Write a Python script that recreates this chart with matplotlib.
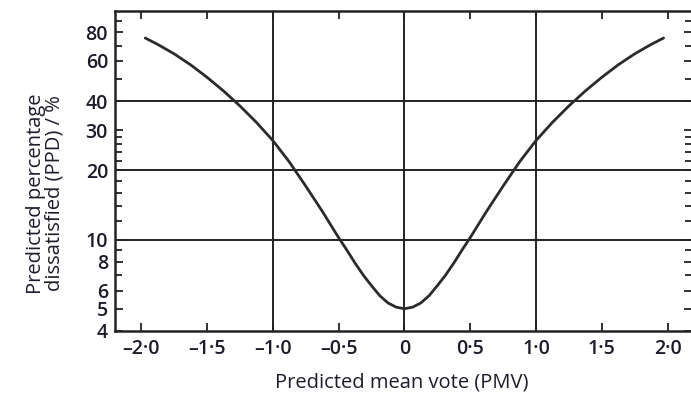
import matplotlib
matplotlib.use("Agg")
import matplotlib.pyplot as plt
from matplotlib.ticker import FixedLocator, NullFormatter

plt.rcParams['font.family'] = ['Open Sans', 'DejaVu Sans']

pmv = [-1.97, -1.875, -1.75, -1.625, -1.5, -1.375, -1.25, -1.125, -1.0, -0.875, -0.75,
       -0.625, -0.5, -0.4375, -0.375, -0.3125, -0.25, -0.1875, -0.125, -0.0625, 0.0,
       0.0625, 0.125, 0.1875, 0.25, 0.3125, 0.375, 0.4375, 0.5, 0.625, 0.75,
       0.875, 1.0, 1.125, 1.25, 1.375, 1.5, 1.625, 1.75, 1.875, 1.97]
ppd = [75.5, 70.8, 64.4, 57.7, 50.9, 44.4, 38.2, 32.4, 27.0, 21.8, 17.1,
       13.3, 10.2, 9.0, 7.9, 7.0, 6.3, 5.7, 5.3, 5.08, 5.0,
       5.08, 5.3, 5.7, 6.3, 7.0, 7.9, 9.0, 10.2, 13.3, 17.1,
       21.8, 27.0, 32.4, 38.2, 44.4, 50.9, 57.7, 64.4, 70.8, 75.5]

x_ticks = [-2.0, -1.5, -1.0, -0.5, 0.0, 0.5, 1.0, 1.5, 2.0]
x_labels = ['–2·0', '–1·5', '–1·0', '–0·5', '0', '0·5', '1·0', '1·5', '2·0']
y_ticks = [4, 5, 6, 8, 10, 20, 30, 40, 60, 80]
y_labels = ['4', '5', '6', '8', '10', '20', '30', '40', '60', '80']
y_minor = [7, 9, 12, 14, 16, 18, 22, 24, 26, 28, 50, 70, 90]
x_grid = [-1.0, 0.0, 1.0]
y_grid = [10, 20, 40]

fig = plt.figure(figsize=(6.91, 3.95), dpi=100)
ax = fig.add_axes([115 / 691, 64 / 395, 577 / 691, 320 / 395])

ink = '#222222'
txt = '#1c1c2a'
ax.plot(pmv, ppd, color='#2b2b2b', lw=2.0, solid_capstyle='round',
        solid_joinstyle='round', zorder=3)

ax.set_yscale('log')
ax.set_xlim(-2.2, 2.186)
ax.set_ylim(4, 99)

for g in x_grid:
    ax.axvline(g, color=ink, lw=1.4, zorder=2)
for g in y_grid:
    ax.axhline(g, color=ink, lw=1.4, zorder=2)

ax.xaxis.set_major_locator(FixedLocator(x_ticks))
ax.set_xticklabels(x_labels)
ax.yaxis.set_major_locator(FixedLocator(y_ticks))
ax.set_yticklabels(y_labels)
ax.yaxis.set_minor_locator(FixedLocator(y_minor))
ax.yaxis.set_minor_formatter(NullFormatter())
ax.xaxis.set_minor_locator(FixedLocator([]))

ax.tick_params(axis='both', which='major', direction='in', length=6, width=1.3,
               color=ink, top=True, right=True, labelsize=14, labelcolor=txt)
ax.tick_params(axis='x', which='major', pad=6)
ax.tick_params(axis='y', which='major', pad=5)
ax.tick_params(axis='y', which='minor', direction='in', length=5, width=1.3,
               color=ink, right=True, left=True)
for lab in ax.get_xticklabels() + ax.get_yticklabels():
    lab.set_fontweight('semibold')

for s in ax.spines.values():
    s.set_linewidth(1.8)
    s.set_color(ink)

ax.set_xlabel('Predicted mean vote (PMV)', fontsize=14.5, color=txt)
ax.xaxis.set_label_coords((402 - 115) / 577, -0.13)
ax.set_ylabel('Predicted percentage\ndissatisfied (PPD) / %', fontsize=14.5,
              color=txt, linespacing=0.95)
ax.yaxis.set_label_coords(-0.087, 0.43)

fig.savefig('out.png', dpi=100)
